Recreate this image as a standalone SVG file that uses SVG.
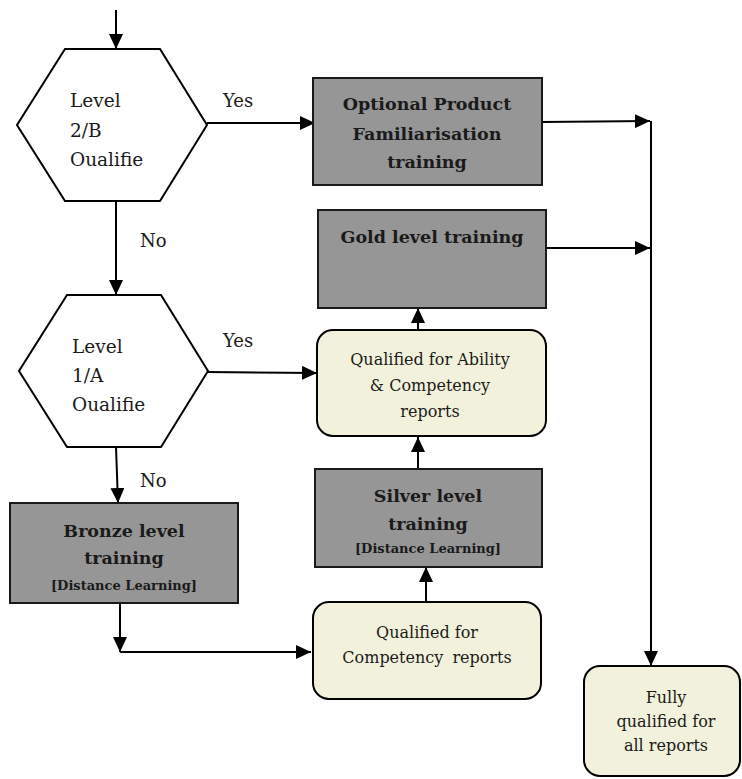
<svg xmlns="http://www.w3.org/2000/svg" width="742" height="779" viewBox="0 0 742 779">
<style>
text{font-family:"DejaVu Serif","Liberation Serif","Times New Roman",serif;fill:#1a1a1a}
.hex{fill:#fff;stroke:#000;stroke-width:2}
.grey{fill:#969696;stroke:#1a1a1a;stroke-width:2}
.yel{fill:#f2f2dc;stroke:#000;stroke-width:2}
.b{font-weight:bold;font-size:17.5px;text-anchor:middle}
.s{font-weight:bold;font-size:13px;text-anchor:middle}
.r{font-size:16px;text-anchor:middle}
.h{font-size:18.5px}
.lbl{font-size:18px}
.e{stroke:#000;stroke-width:2;fill:none}
</style>
<defs>
<marker id="a" markerUnits="userSpaceOnUse" markerWidth="16" markerHeight="14" refX="15" refY="7" orient="auto">
<path d="M0,0 L15,7 L0,14 Z" fill="#000"/>
</marker>
</defs>
<g id="connectors">
<line class="e" x1="116" y1="10" x2="116" y2="49" marker-end="url(#a)"/>
<line class="e" x1="207" y1="123" x2="315" y2="123" marker-end="url(#a)"/>
<line class="e" x1="116" y1="201" x2="116" y2="295" marker-end="url(#a)"/>
<line class="e" x1="542" y1="122" x2="650" y2="121" marker-end="url(#a)"/>
<line class="e" x1="546" y1="248" x2="650" y2="248" marker-end="url(#a)"/>
<line class="e" x1="651" y1="121" x2="651" y2="666" marker-end="url(#a)"/>
<line class="e" x1="208" y1="372" x2="317" y2="373" marker-end="url(#a)"/>
<line class="e" x1="418" y1="330" x2="418" y2="308" marker-end="url(#a)"/>
<line class="e" x1="418" y1="469" x2="418" y2="437" marker-end="url(#a)"/>
<line class="e" x1="426" y1="602" x2="426" y2="567" marker-end="url(#a)"/>
<line class="e" x1="116" y1="447" x2="118" y2="503" marker-end="url(#a)"/>
<line class="e" x1="120" y1="603" x2="120" y2="652" marker-end="url(#a)"/>
<line class="e" x1="120" y1="652" x2="311" y2="652" marker-end="url(#a)"/>
<text class="lbl" x="223" y="107">Yes</text>
<text class="lbl" x="140" y="247">No</text>
<text class="lbl" x="223" y="347">Yes</text>
<text class="lbl" x="140" y="487">No</text>
</g>
<g id="hex1">
<polygon class="hex" points="65,49 160,49 207,125 160,201 65,201 17,125"/>
<text class="h" x="70" y="107">Level</text>
<text class="h" x="70" y="137">2/B</text>
<text class="h" x="70" y="166">Oualifie</text>
</g>
<g id="hex2">
<polygon class="hex" points="67,295 161,295 208,371 161,447 67,447 19,371"/>
<text class="h" x="72" y="353">Level</text>
<text class="h" x="72" y="382">1/A</text>
<text class="h" x="72" y="411">Oualifie</text>
</g>
<g id="optional">
<rect class="grey" x="313" y="78" width="229" height="107"/>
<text class="b" x="427" y="110">Optional Product</text>
<text class="b" x="427" y="140">Familiarisation</text>
<text class="b" x="427" y="168">training</text>
</g>
<g id="gold">
<rect class="grey" x="318" y="210" width="228" height="98"/>
<text class="b" x="432" y="243">Gold level training</text>
</g>
<g id="ability">
<rect class="yel" x="317" y="330" width="229" height="106" rx="16"/>
<text class="r" x="430" y="365">Qualified for Ability</text>
<text class="r" x="430" y="391">&amp; Competency</text>
<text class="r" x="430" y="417">reports</text>
</g>
<g id="silver">
<rect class="grey" x="315" y="469" width="227" height="98"/>
<text class="b" x="428" y="502">Silver level</text>
<text class="b" x="428" y="530">training</text>
<text class="s" x="428" y="553">[Distance Learning]</text>
</g>
<g id="bronze">
<rect class="grey" x="10" y="503" width="228" height="100"/>
<text class="b" x="124" y="537">Bronze level</text>
<text class="b" x="124" y="564">training</text>
<text class="s" x="124" y="590">[Distance Learning]</text>
</g>
<g id="competency">
<rect class="yel" x="313" y="602" width="228" height="97" rx="16"/>
<text class="r" x="427" y="638">Qualified for</text>
<text class="r" x="427" y="663" word-spacing="4">Competency reports</text>
</g>
<g id="fully">
<rect class="yel" x="584" y="666" width="156" height="110" rx="16"/>
<text class="r" x="666" y="703">Fully</text>
<text class="r" x="666" y="727">qualified for</text>
<text class="r" x="666" y="751">all reports</text>
</g>
</svg>
